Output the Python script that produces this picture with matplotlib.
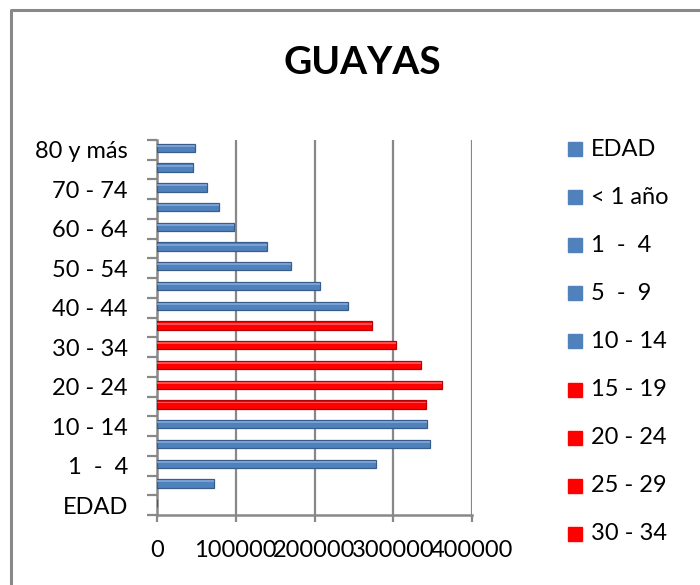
import matplotlib
matplotlib.use("Agg")
import matplotlib.pyplot as plt
from matplotlib.patches import Rectangle
from matplotlib.lines import Line2D

plt.rcParams['font.family'] = ['Lato', 'DejaVu Sans']

# age groups, bottom to top
edades = ['EDAD', '< 1 año', '1  -  4', '5  -  9', '10 - 14', '15 - 19', '20 - 24',
          '25 - 29', '30 - 34', '35 - 39', '40 - 44', '45 - 49', '50 - 54',
          '55 - 59', '60 - 64', '65 - 69', '70 - 74', '75 - 79', '80 y más']
poblacion = [0, 72000, 278500, 346800, 343000, 341800, 362000, 335400, 303800,
             273400, 243000, 207600, 169600, 139200, 97500, 78500, 63300, 45600, 48100]
rojos = ['15 - 19', '20 - 24', '25 - 29', '30 - 34', '35 - 39']
xticks = [0, 100000, 200000, 300000, 400000]
leyenda = edades[:9]

azul, azul_borde, azul_claro = '#4F81BD', '#385D8A', '#8DB0DE'
rojo, rojo_borde, rojo_claro = '#FF0000', '#B80000', '#FF7070'
gris = '#888888'

fig = plt.figure(figsize=(7.0, 5.85), dpi=100)

# outer chart frame (only top and left edges show in the crop)
fig.add_artist(Line2D([11 / 700, 11 / 700, 1.0], [0.0, 1 - 10 / 585, 1 - 10 / 585],
                      transform=fig.transFigure, color=gris, lw=2.2))

ax = fig.add_axes([157 / 700, 70 / 585, 315 / 700, 375 / 585])

ypos = list(range(len(edades)))
caras = [rojo if e in rojos else azul for e in edades]
bordes = [rojo_borde if e in rojos else azul_borde for e in edades]
luces = [rojo_claro if e in rojos else azul_claro for e in edades]

ax.barh([y + 0.1 for y in ypos], poblacion, height=0.42, color=caras,
        edgecolor=bordes, linewidth=0.9, zorder=3)
ax.barh([y + 0.2 for y in ypos], poblacion, height=0.1, color=luces,
        linewidth=0, alpha=0.7, zorder=4)

ax.set_xlim(0, 400000)
ax.set_ylim(-0.5, len(edades) - 0.5)

for x in xticks[1:]:
    ax.axvline(x, color=gris, lw=1.6, zorder=1)

for s in ['top', 'right']:
    ax.spines[s].set_visible(False)
for s in ['left', 'bottom']:
    ax.spines[s].set_color(gris)
    ax.spines[s].set_linewidth(1.8)

ax.set_yticks(ypos[::2])
ax.set_yticklabels(edades[::2], fontsize=17)
ax.set_yticks([y - 0.5 for y in range(len(edades) + 1)], minor=True)
ax.tick_params(axis='y', which='major', length=0, pad=21)
ax.tick_params(axis='y', which='minor', length=7, width=1.6, color=gris)

ax.set_xticks(xticks)
ax.set_xticklabels([str(v) for v in xticks], fontsize=17)
ax.tick_params(axis='x', length=5, width=1.6, color=gris, pad=13)

fig.text(362 / 700, 1 - 62 / 585, 'GUAYAS', ha='center', va='center',
         fontsize=28, fontweight='bold')

# legend (Excel cuts it after nine entries)
for i, nombre in enumerate(leyenda):
    yc = 1 - (149 + i * 48.1) / 585
    col = rojo if nombre in rojos else azul
    fig.add_artist(Rectangle((568 / 700, yc - 7 / 585), 14 / 700, 14 / 585,
                             transform=fig.transFigure, color=col))
    fig.text(591 / 700, yc, nombre, ha='left', va='center', fontsize=17)

fig.savefig('out.png', dpi=100)
